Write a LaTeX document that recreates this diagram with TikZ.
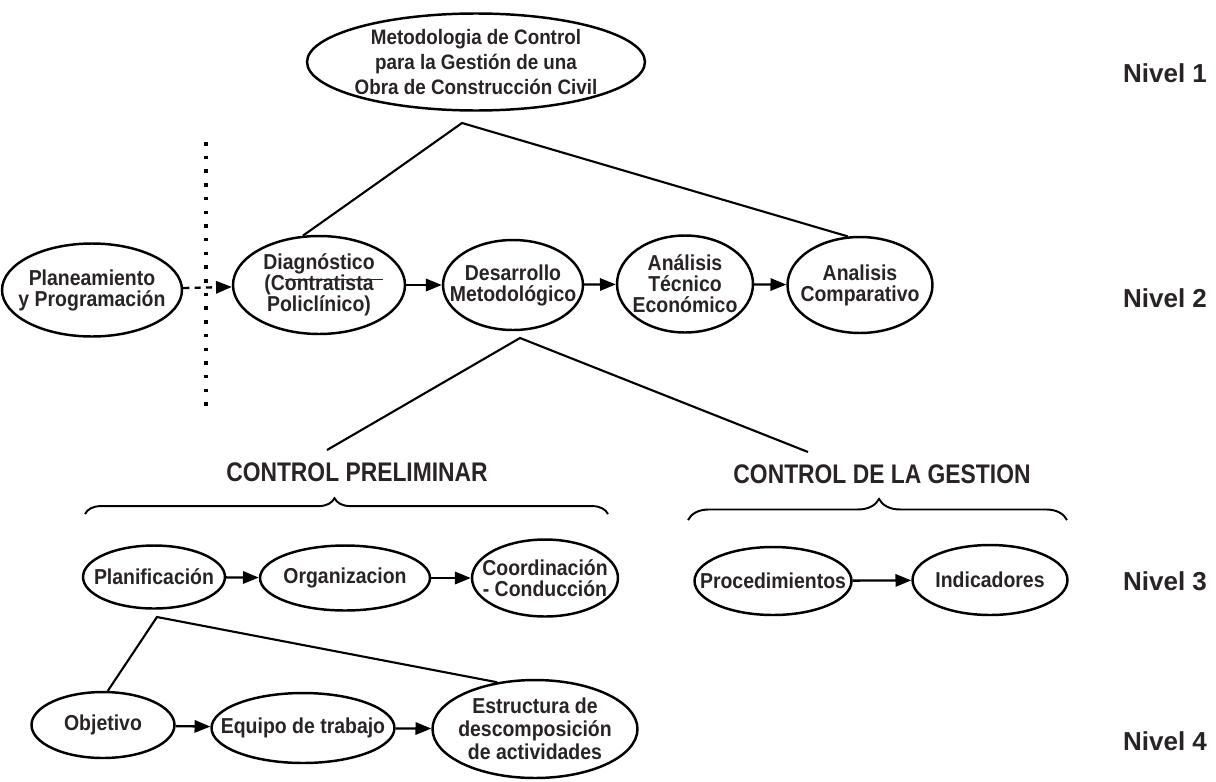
\documentclass[tikz,border=0pt]{standalone}
\usepackage{fontspec}
\setmainfont{Liberation Sans}
\newfontfamily\narrowfont{Liberation Sans}[FakeStretch=0.9]
\newfontfamily\condfont{Liberation Sans}[FakeStretch=0.85]
\usetikzlibrary{arrows.meta,positioning,shapes.geometric,decorations.pathreplacing}
\definecolor{ink}{HTML}{2A2326}

\begin{document}
\begin{tikzpicture}[x=0.02cm, y=-0.02cm,
    stage/.style={ellipse, draw=black, line width=1.4pt,
                  inner xsep=-12pt, inner ysep=-6pt, align=center, text=ink,
                  font=\narrowfont\bfseries\fontsize{12.3}{12}\selectfont},
    link/.style={line width=1.2pt},
    flow/.style={-{Triangle[length=9pt,width=7pt]}, line width=1.3pt},
    divider/.style={line width=1.8pt, dash pattern=on 2pt off 5.8pt},
    curly/.style={decorate, line width=1.1pt},
    group/.style={font=\condfont\bfseries\fontsize{15.3}{18}\selectfont, text=ink},
    level/.style={font=\bfseries\fontsize{14.8}{17}\selectfont, text=ink}]

  \useasboundingbox (0,0) rectangle (1216,781);

  \node (metodologia) [stage, minimum width=6.76cm, minimum height=1.94cm,
                       font=\narrowfont\bfseries\fontsize{11.9}{14}\selectfont]
        at (476,62) {Metodologia de Control\\para la Gestión de una\\Obra de Construcción Civil};

  \node (planeamiento) [stage, minimum width=3.6cm, minimum height=1.86cm]
        at (92,290) {Planeamiento\\y Programación};
  \node (diagnostico) [stage, minimum width=3.44cm, minimum height=1.96cm]
        at (319,285) {Diagnóstico\\(C\rlap{\rule[5.8pt]{56pt}{0.7pt}}ontratista\\Policlínico)};
  \node (desarrollo) [stage, minimum width=2.8cm, minimum height=1.8cm]
        at (513,285) {Desarrollo\\Metodológico};
  \node (tecnico) [stage, minimum width=2.72cm, minimum height=1.94cm]
        at (685,284) {Análisis\\Técnico\\Económico};
  \node (comparativo) [stage, minimum width=2.9cm, minimum height=1.92cm]
        at (860,285) {Analisis\\Comparativo};

  \node (planificacion) [stage, minimum width=2.84cm, minimum height=1.26cm]
        at (154,577) {Planificación};
  \node (organizacion) [stage, minimum width=3.4cm, minimum height=1.3cm]
        at (345,578) {Organizacion};
  \node (coordinacion) [stage, minimum width=2.92cm, minimum height=1.54cm]
        at (545,578) {Coordinación\\- Conducción};
  \node (procedimientos) [stage, minimum width=3.14cm, minimum height=1.36cm]
        at (773,581) {Procedimientos};
  \node (indicadores) [stage, minimum width=3.1cm, minimum height=1.4cm]
        at (990,580) {Indicadores};

  \node (objetivo) [stage, minimum width=2.86cm, minimum height=1.32cm]
        at (103,725) {Objetivo};
  \node (equipo) [stage, minimum width=3.66cm, minimum height=1.4cm]
        at (303,728) {Equipo de trabajo};
  \node (estructura) [stage, minimum width=4.1cm, minimum height=1.96cm,
                      font=\narrowfont\bfseries\fontsize{12.3}{13}\selectfont]
        at (535,729) {Estructura de\\descomposición\\de actividades};

  \node (preliminar) [group] at (357,472) {CONTROL PRELIMINAR};
  \node (gestion) [group] at (882,474) {CONTROL DE LA GESTION};

  \node (nivel_1) [level] at (1165,73) {Nivel 1};
  \node (nivel_2) [level] at (1165,298) {Nivel 2};
  \node (nivel_3) [level] at (1165,581) {Nivel 3};
  \node (nivel_4) [level] at (1165,741) {Nivel 4};

  \coordinate (top_fork) at (462,123);
  \coordinate (metodo_fork) at (520,338);
  \coordinate (preliminar_end) at (327,450);
  \coordinate (gestion_end) at (808,452);
  \coordinate (plan_fork) at (157,617);
  \coordinate (divide_top) at (206,142);
  \coordinate (divide_bottom) at (206,408);
  \coordinate (pre_brace_l) at (85,514);
  \coordinate (pre_brace_r) at (608,514);
  \coordinate (ges_brace_l) at (688,520);
  \coordinate (ges_brace_r) at (1067,520);

  \draw [link] (diagnostico.108) -- (top_fork) -- (comparativo.104);
  \draw [link] (preliminar_end) -- (metodo_fork) -- (gestion_end);
  \draw [link] (objetivo.82) -- (plan_fork) -- (estructura.129);

  \draw [divider] (divide_top) -- (divide_bottom);

  \draw [flow, dash pattern=on 3.5pt off 3pt] (planeamiento) -- (diagnostico);
  \draw [flow] (diagnostico) -- (desarrollo);
  \draw [flow] (desarrollo) -- (tecnico);
  \draw [flow] (tecnico) -- (comparativo);
  \draw [flow] (planificacion) -- (organizacion);
  \draw [flow] (organizacion) -- (coordinacion);
  \draw [flow] (procedimientos) -- (indicadores);
  \draw [flow] (objetivo) -- (equipo);
  \draw [flow] (equipo) -- (estructura);

  \draw [curly, decoration={brace, amplitude=9pt, aspect=0.477}]
        (pre_brace_l) -- (pre_brace_r);
  \draw [curly, decoration={brace, amplitude=12pt, aspect=0.504}]
        (ges_brace_l) -- (ges_brace_r);
\end{tikzpicture}
\end{document}
